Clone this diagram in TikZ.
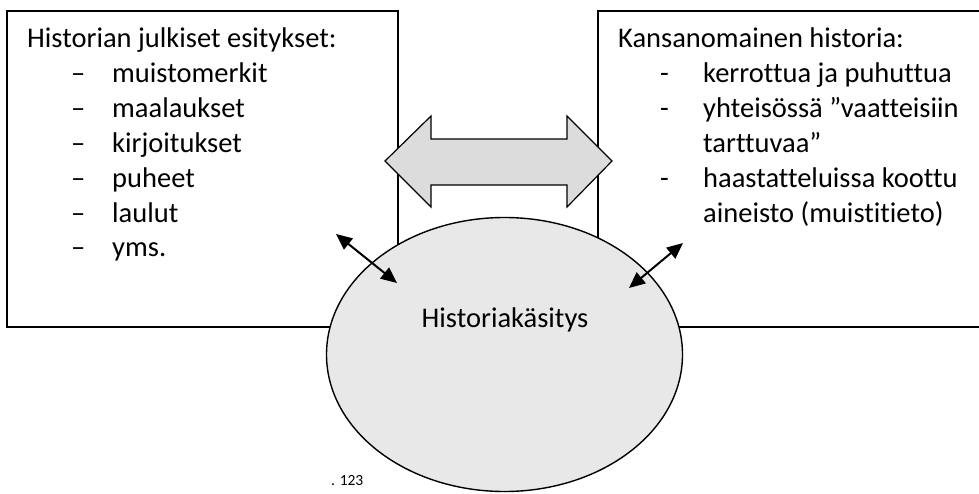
\documentclass[tikz,border=0pt]{standalone}
\usepackage{fontspec}
\setmainfont[Ligatures=NoCommon]{Carlito}
\usetikzlibrary{shapes.geometric,arrows.meta}
\definecolor{ellipsefill}{HTML}{E8E8E8}
\definecolor{arrowfill}{HTML}{DCDCDC}
\tikzset{
  panel/.style={draw=black, line width=1.4pt},
  txt/.style={anchor=base west, inner sep=0pt, font=\fontsize{28.5}{35}\selectfont},
  bigarrow/.style={draw=black, line width=1.2pt, fill=arrowfill, line join=miter},
  link/.style={line width=2pt, {Triangle[length=16pt,width=14pt]}-{Triangle[length=16pt,width=14pt]}}
}
\begin{document}
\begin{tikzpicture}[x=1pt,y=-1pt]
  \useasboundingbox (0,0) rectangle (979,493);
  \clip (0,0) rectangle (979,493);

  % two content panels
  \draw[panel] (7,11) rectangle (398,327);
  \draw[panel] (598,11) rectangle (1000,327);

  % left panel text
  \node[txt] (lh) at (27,47) {Historian julkiset esitykset:};
  \foreach \y/\w/\n in {82/muistomerkit/l1, 117/maalaukset/l2, 152/kirjoitukset/l3, 187/puheet/l4, 222/laulut/l5, 256/yms./l6}{
    \node[txt] (\n d) at (71,\y) {–};
    \node[txt] (\n) at (112,\y) {\w};
  }

  % right panel text
  \node[txt] (rh) at (618,47) {Kansanomainen historia:};
  \node[txt] (r1d) at (660,82) {-};
  \node[txt] (r1) at (703,82) {kerrottua ja puhuttua};
  \node[txt] (r2d) at (660,117) {-};
  \node[txt] (r2) at (703,117) {yhteisössä ”vaatteisiin};
  \node[txt] (r2b) at (703,152) {tarttuvaa”};
  \node[txt] (r3d) at (660,187) {-};
  \node[txt] (r3) at (703,187) {haastatteluissa koottu};
  \node[txt] (r3b) at (703,222) {aineisto (muistitieto)};

  % central ellipse
  \node[ellipse, draw=black, line width=1.4pt, fill=ellipsefill,
        minimum width=356pt, minimum height=274pt, inner sep=0pt] (hk) at (504.5,354.5) {};
  \node[anchor=base, inner sep=0pt, font=\fontsize{28.5}{35}\selectfont] (hkt) at (505,327) {Historiakäsitys};

  % double-headed block arrow between the panels
  \draw[bigarrow] (385,161) -- (431,116) -- (431,139) -- (567,139) -- (567,116)
    -- (612,161) -- (567,207) -- (567,185) -- (431,185) -- (431,207) -- cycle;

  % two-way links between panels and ellipse
  \coordinate (la) at (336,234);
  \coordinate (lb) at (397,283);
  \coordinate (ra) at (683,243);
  \coordinate (rb) at (629,288);
  \draw[link] (la) -- (lb);
  \draw[link] (ra) -- (rb);

  % small footnote mark
  \node[anchor=base west, inner sep=0pt, font=\fontsize{15.5}{18}\selectfont] (fn) at (331,485) {. 123};
\end{tikzpicture}
\end{document}
